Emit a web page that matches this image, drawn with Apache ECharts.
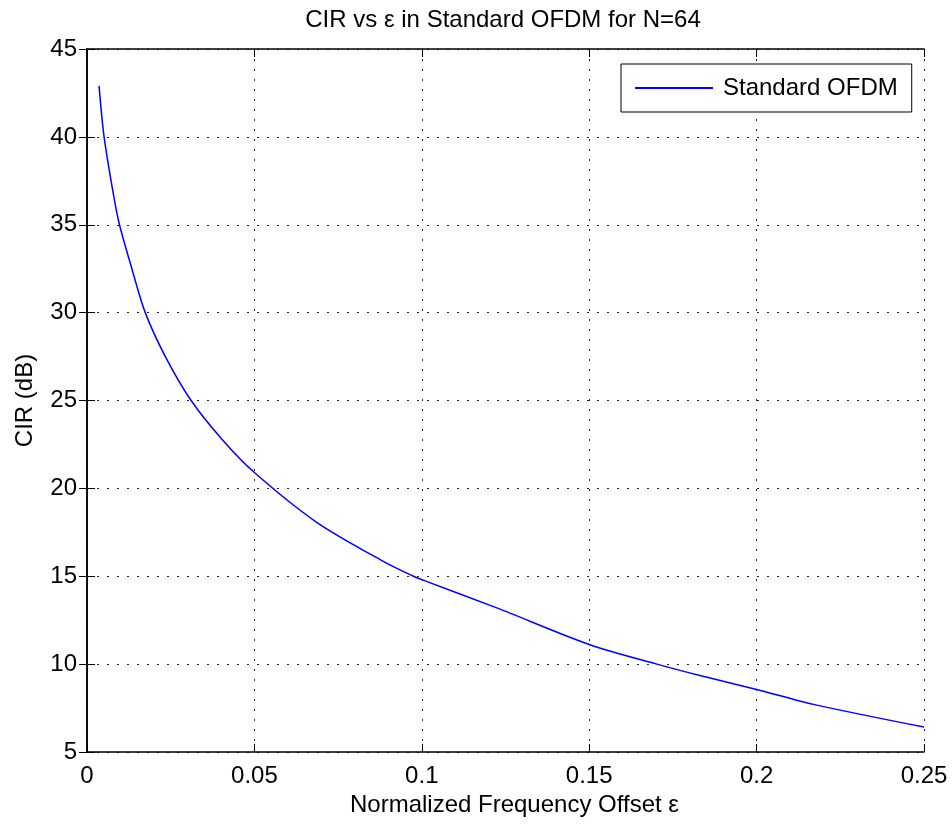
<!DOCTYPE html>
<html>
<head>
<meta charset="utf-8">
<script src="https://cdn.jsdelivr.net/npm/echarts@6/dist/echarts.min.js"></script>
<style>
  html, body { margin: 0; padding: 0; background: #ffffff; }
  #main { width: 952px; height: 829px; }
</style>
</head>
<body>
<div id="main"></div>
<script>
  // normalized frequency offset (x) and CIR in dB (y)
  var epsilon = [0.0036, 0.0051, 0.0081, 0.0097, 0.0134, 0.0174, 0.0234, 0.0311, 0.0403, 0.05,
    0.0686, 0.0885, 0.0975, 0.1, 0.1224, 0.15, 0.1702, 0.1831, 0.2, 0.217, 0.25];
  var cirDb = [42.9, 40.0, 36.5, 35.0, 32.5, 30.0, 27.5, 25.0, 22.8, 20.9,
    18.07, 15.85, 15.0, 14.81, 13.2, 11.12, 10.0, 9.35, 8.56, 7.71, 6.42];

  var seriesName = 'Standard OFDM';
  var font = 'Liberation Sans, Arial, sans-serif';

  var data = [];
  for (var i = 0; i < epsilon.length; i++) {
    data.push([epsilon[i], cirDb[i]]);
  }

  var myChart = echarts.init(document.getElementById('main'));

  var gridLine = {
    show: true,
    lineStyle: {color: '#222', type: [2, 8], width: 1}
  };

  myChart.setOption({
    animation: false,
    backgroundColor: '#ffffff',
    title: {
      text: 'CIR vs ε in Standard OFDM for N=64',
      left: 498,
      textAlign: 'center',
      top: 3,
      textStyle: {fontFamily: font, fontSize: 24, fontWeight: 'normal', color: '#000'}
    },
    grid: {left: 87, top: 49, right: 28, bottom: 77},
    legend: {
      left: 621,
      top: 64,
      padding: [12, 14, 12, 14],
      backgroundColor: '#fff',
      borderColor: '#000',
      borderWidth: 1,
      borderRadius: 0,
      itemWidth: 78,
      itemHeight: 2,
      textStyle: {fontFamily: font, fontSize: 24, color: '#000', padding: [0, 0, 0, 5]},
      data: [{name: seriesName, icon: 'rect'}]
    },
    xAxis: [{
      type: 'value',
      min: 0,
      max: 0.25,
      interval: 0.05,
      name: 'Normalized Frequency Offset ε',
      nameLocation: 'middle',
      nameGap: 40,
      nameTextStyle: {fontFamily: font, fontSize: 24, color: '#000', padding: [0, 0, 0, 18]},
      axisLine: {show: true, lineStyle: {color: '#000', width: 1.5}},
      axisTick: {show: true, inside: true, length: 8, lineStyle: {color: '#000'}},
      axisLabel: {fontFamily: font, fontSize: 24, color: '#000', margin: 12},
      splitLine: gridLine
    }, {
      type: 'value',
      position: 'top',
      min: 0,
      max: 0.25,
      interval: 0.05,
      axisLine: {show: true, lineStyle: {color: '#000', width: 1.5}},
      axisTick: {show: true, inside: true, length: 8, lineStyle: {color: '#000'}},
      axisLabel: {show: false},
      splitLine: {show: false}
    }],
    yAxis: [{
      type: 'value',
      min: 5,
      max: 45,
      interval: 5,
      name: 'CIR (dB)',
      nameLocation: 'middle',
      nameGap: 50,
      nameTextStyle: {fontFamily: font, fontSize: 24, color: '#000'},
      axisLine: {show: true, lineStyle: {color: '#000', width: 1.5}},
      axisTick: {show: true, inside: true, length: 8, lineStyle: {color: '#000'}},
      axisLabel: {fontFamily: font, fontSize: 24, color: '#000', margin: 10},
      splitLine: gridLine
    }, {
      type: 'value',
      position: 'right',
      min: 5,
      max: 45,
      interval: 5,
      axisLine: {show: true, lineStyle: {color: '#000', width: 1.5}},
      axisTick: {show: true, inside: true, length: 8, lineStyle: {color: '#000'}},
      axisLabel: {show: false},
      splitLine: {show: false}
    }],
    series: [{
      name: seriesName,
      type: 'line',
      xAxisIndex: 0,
      yAxisIndex: 0,
      symbol: 'none',
      smooth: 0.3,
      lineStyle: {color: '#0000ff', width: 1.5},
      itemStyle: {color: '#0000ff'},
      data: data
    }]
  });
</script>
</body>
</html>
